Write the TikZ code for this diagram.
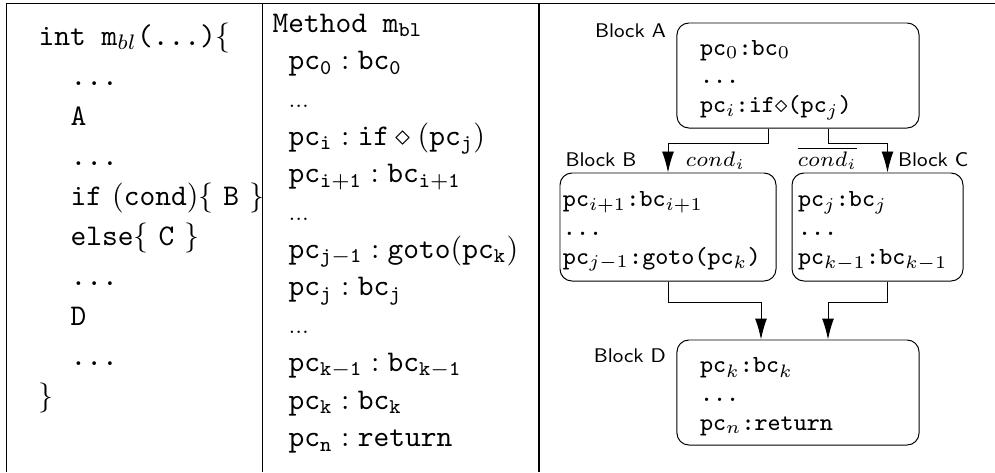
\documentclass[tikz,border=0pt]{standalone}
\usepackage{amsmath,amssymb}
\usepackage{tikz}
\usetikzlibrary{arrows.meta,positioning}

% bytecode in the block boxes
\newcommand{\cpc}[1]{\texttt{pc}$_{#1}$}
\newcommand{\cbc}[1]{\texttt{bc}$_{#1}$}

\begin{document}
\begin{tikzpicture}[x=0.3333pt, y=-0.3333pt,
    code/.style={anchor=base west, inner sep=0pt},
    blockbox/.style={draw, rounded corners=4pt, line width=0.33pt, align=left,
      font=\fontsize{8.2}{9.6}\selectfont, inner ysep=2pt,
      execute at begin node=\rule{0pt}{8pt}},
    blocklabel/.style={inner sep=0pt, font=\sffamily\fontsize{6.6}{8}\selectfont},
    flow/.style={line width=0.33pt, -{Latex[length=7pt,width=4pt]}}]
    \useasboundingbox (0,0) rectangle (995,472);

    % table rules
    \draw[line width=0.43pt] (6.5,472) -- (6.5,3.5) -- (995,3.5);
    \draw[line width=0.43pt] (262.5,3.5) -- (262.5,472);
    \draw[line width=0.43pt] (539,3.5) -- (539,472);

    % source method
    \node[code] (src0) at (38,45) {\texttt{int m}$_{bl}$\texttt{(...)}$\{$};
    \node[code] (src1) at (70,85) {\texttt{...}};
    \node[code] (src2) at (70,125) {\texttt{A}};
    \node[code] (src3) at (70,165) {\texttt{...}};
    \node[code] (src4) at (70,205) {\texttt{if} $(\mathtt{cond})\{$ \texttt{B} $\}$};
    \node[code] (src5) at (70,245) {\texttt{else}$\{$ \texttt{C} $\}$};
    \node[code] (src6) at (70,285) {\texttt{...}};
    \node[code] (src7) at (70,325) {\texttt{D}};
    \node[code] (src8) at (70,365) {\texttt{...}};
    \node[code] (src9) at (38,405) {$\}$};

    % bytecode listing
    \node[code] (bc0) at (272,32) {\texttt{Method m}$_{\mathtt{bl}}$};
    \node[code] (bc1) at (288,69.7) {$\mathtt{pc_0 : bc_0}$};
    \node[code] (bc2) at (288,107.4) {{\scriptsize ...}};
    \node[code] (bc3) at (288,145.1) {$\mathtt{pc_i : if \diamond (pc_j)}$};
    \node[code] (bc4) at (288,182.8) {$\mathtt{pc_{i+1} : bc_{i+1}}$};
    \node[code] (bc5) at (288,220.5) {{\scriptsize ...}};
    \node[code] (bc6) at (288,258.2) {$\mathtt{pc_{j-1} : goto(pc_k)}$};
    \node[code] (bc7) at (288,295.9) {$\mathtt{pc_j : bc_j}$};
    \node[code] (bc8) at (288,333.6) {{\scriptsize ...}};
    \node[code] (bc9) at (288,371.3) {$\mathtt{pc_{k-1} : bc_{k-1}}$};
    \node[code] (bc10) at (288,409) {$\mathtt{pc_k : bc_k}$};
    \node[code] (bc11) at (288,446.7) {$\mathtt{pc_n : return}$};

    % basic blocks
    \node[blockbox, minimum width=80.7pt, minimum height=35pt, text width=65.3pt, inner xsep=7.7pt]
        (blockA) at (798,75.5) {\cpc{0}\texttt{:}\cbc{0}\\ \texttt{...}\\
        \cpc{i}\texttt{:if}$\diamond$\texttt{(}\cpc{j}\texttt{)}};
    \node[blockbox, minimum width=72pt, minimum height=36pt, text width=70pt, inner xsep=1pt]
        (blockB) at (668,227) {\cpc{i+1}\texttt{:}\cbc{i+1}\\ \texttt{...}\\
        \cpc{j-1}\texttt{:goto(}\cpc{k}\texttt{)}};
    \node[blockbox, minimum width=57pt, minimum height=36pt, text width=53pt, inner xsep=2pt]
        (blockC) at (877.5,227) {\cpc{j}\texttt{:}\cbc{j}\\ \texttt{...}\\
        \cpc{k-1}\texttt{:}\cbc{k-1}};
    \node[blockbox, minimum width=80.7pt, minimum height=35pt, text width=65.3pt, inner xsep=7.7pt]
        (blockD) at (798,392.5) {\cpc{k}\texttt{:}\cbc{k}\\ \texttt{...}\\
        \cpc{n}\texttt{:return}};

    \node[blocklabel, anchor=base east] (labA) at ([shift={(-10,15)}]blockA.north west) {Block A};
    \node[blocklabel, anchor=base east] (labB) at ([shift={(-31,-6)}]blockB.north) {Block B};
    \node[blocklabel, anchor=base west] (labC) at ([shift={(20,-6)}]blockC.north) {Block C};
    \node[blocklabel, anchor=base east] (labD) at ([shift={(-10,23)}]blockD.north west) {Block D};
    \node[blocklabel, anchor=base west] (condT) at ([shift={(17,-6)}]blockB.north) {$cond_i$};
    \node[blocklabel, anchor=base east] (condF) at ([shift={(-20,-6)}]blockC.north) {$\overline{cond_i}$};

    % control flow
    \draw[flow] ([shift={(-30,0)}]blockA.south) -- ++(0,15) -| (blockB.north);
    \draw[flow] ([shift={(30,0)}]blockA.south) -- ++(0,15) -| ([shift={(10,0)}]blockC.north);
    \draw[flow] (blockB.south) -- ++(0,21) -| ([shift={(-37,0)}]blockD.north);
    \draw[flow] ([shift={(10,0)}]blockC.south) -- ++(0,21) -| ([shift={(30,0)}]blockD.north);
\end{tikzpicture}
\end{document}
